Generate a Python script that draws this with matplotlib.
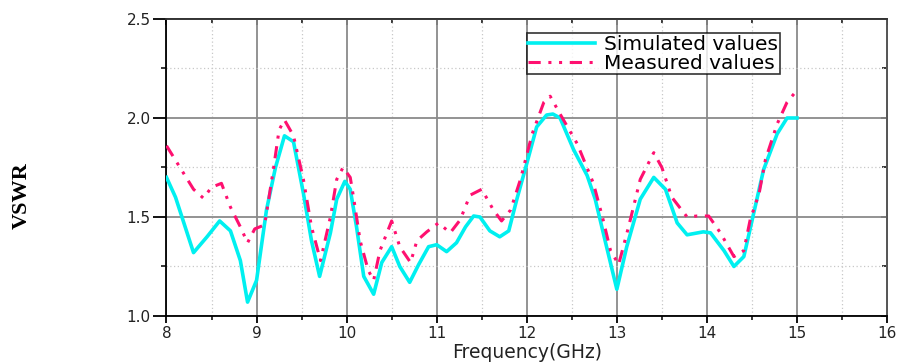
import matplotlib
matplotlib.use("Agg")
import matplotlib.pyplot as plt
from matplotlib.ticker import MultipleLocator

sim_f = [8.0, 8.1, 8.3, 8.45, 8.59, 8.71, 8.82, 8.9, 9.0, 9.11, 9.21, 9.31, 9.41, 9.52, 9.61, 9.7,
         9.82, 9.89, 9.98, 10.04, 10.11, 10.19, 10.3, 10.39, 10.5, 10.59, 10.7, 10.8, 10.91, 11.0,
         11.11, 11.22, 11.32, 11.41, 11.48, 11.59, 11.7, 11.8, 11.89, 12.0, 12.11, 12.22, 12.29,
         12.37, 12.52, 12.67, 12.76, 12.87, 13.0, 13.11, 13.26, 13.41, 13.54, 13.67, 13.78, 13.96,
         14.04, 14.19, 14.3, 14.41, 14.52, 14.63, 14.78, 14.89, 15.0]
sim_v = [1.70, 1.60, 1.32, 1.40, 1.48, 1.43, 1.28, 1.07, 1.18, 1.535, 1.75, 1.91, 1.88, 1.62, 1.38, 1.20,
         1.42, 1.59, 1.68, 1.64, 1.45, 1.20, 1.11, 1.27, 1.35, 1.25, 1.17, 1.26, 1.35, 1.36,
         1.325, 1.37, 1.45, 1.505, 1.50, 1.43, 1.40, 1.43, 1.59, 1.77, 1.955, 2.015, 2.02,
         2.00, 1.84, 1.71, 1.59, 1.38, 1.135, 1.35, 1.59, 1.70, 1.64, 1.47, 1.41, 1.425,
         1.42, 1.33, 1.25, 1.30, 1.52, 1.74, 1.92, 2.00, 2.00]

meas_f = [8.0, 8.15, 8.3, 8.41, 8.5, 8.61, 8.71, 8.82, 8.9, 8.98, 9.09, 9.19, 9.25, 9.31, 9.41, 9.52,
          9.61, 9.71, 9.82, 9.89, 9.96, 10.04, 10.08, 10.15, 10.24, 10.3, 10.37, 10.5, 10.59, 10.71,
          10.78, 10.89, 11.02, 11.15, 11.26, 11.37, 11.5, 11.63, 11.72, 11.82, 11.93, 12.06, 12.19,
          12.26, 12.37, 12.56, 12.74, 12.84, 12.93, 13.02, 13.13, 13.26, 13.41, 13.5, 13.61, 13.78,
          13.89, 14.02, 14.15, 14.3, 14.41, 14.48, 14.58, 14.65, 14.78, 14.89, 15.0]
meas_v = [1.86, 1.75, 1.64, 1.595, 1.65, 1.67, 1.55, 1.45, 1.37, 1.44, 1.46, 1.75, 1.94, 1.99, 1.91, 1.69,
          1.45, 1.28, 1.50, 1.69, 1.75, 1.70, 1.59, 1.38, 1.23, 1.18, 1.33, 1.48, 1.35, 1.27,
          1.38, 1.425, 1.47, 1.42, 1.485, 1.61, 1.64, 1.535, 1.48, 1.535, 1.69, 1.92, 2.08,
          2.11, 2.02, 1.87, 1.67, 1.50, 1.33, 1.26, 1.45, 1.69, 1.825, 1.75, 1.60, 1.50,
          1.505, 1.505, 1.42, 1.30, 1.33, 1.485, 1.62, 1.79, 1.97, 2.08, 2.14]

x_ticks = [8, 9, 10, 11, 12, 13, 14, 15, 16]
y_ticks = [1.0, 1.5, 2.0, 2.5]
y_tick_labels = ['1.0', '1.5', '2.0', '2.5']

fig = plt.figure(figsize=(8.99, 3.64), dpi=100)
ax = fig.add_axes([0.1852, 0.1319, 0.8015, 0.8159])

ax.plot(sim_f, sim_v, color='#00F0F0', lw=2.6, label='Simulated values', zorder=3)
ax.plot(meas_f, meas_v, color='#FF1070', lw=2.2, linestyle=(0, (4, 2.5, 1, 2.5, 1, 2.5)),
        label='Measured values', zorder=4)

ax.set_xlim(8, 16)
ax.set_ylim(1.0, 2.5)
ax.set_xticks(x_ticks)
ax.set_yticks(y_ticks)
ax.set_yticklabels(y_tick_labels)
ax.xaxis.set_minor_locator(MultipleLocator(0.5))
ax.yaxis.set_minor_locator(MultipleLocator(0.25))

ax.grid(which='major', color='#8a8a8a', lw=1.3, linestyle='-')
ax.grid(which='minor', color='#c8c8c8', lw=0.9, linestyle=(0, (1, 2)))
ax.set_axisbelow(True)

for s in ax.spines.values():
    s.set_linewidth(1.3)
ax.spines['left'].set_color('black')
ax.spines['bottom'].set_color('black')
ax.spines['top'].set_color('#333333')
ax.spines['right'].set_color('#555555')

ax.tick_params(axis='y', which='major', direction='out', length=9.5, width=1.3, left=True, right=False)
ax.tick_params(axis='y', which='minor', direction='out', length=3.8, width=1.1, left=True, right=False)
ax.tick_params(axis='x', which='major', direction='out', length=5, width=1.3, bottom=True, top=False)
ax.tick_params(axis='x', which='minor', direction='out', length=2.8, width=1.1, bottom=True, top=False)
ax.tick_params(axis='both', which='both', labelsize=11, labelfontfamily='DejaVu Sans',
               labelcolor='#222222', pad=2)

axr = ax.secondary_yaxis('right')
axr.set_yticks(y_ticks)
axr.yaxis.set_minor_locator(MultipleLocator(0.25))
axr.tick_params(which='major', direction='in', length=4, width=1.3, labelright=False)
axr.tick_params(which='minor', direction='in', length=3.5, width=1.1, labelright=False)
axr.spines['right'].set_color('#555555')
axr.spines['right'].set_linewidth(1.3)
axt = ax.secondary_xaxis('top')
axt.set_xticks(x_ticks)
axt.xaxis.set_minor_locator(MultipleLocator(0.5))
axt.tick_params(which='major', direction='in', length=4, width=1.3, labeltop=False)
axt.tick_params(which='minor', direction='in', length=3, width=1.1, labeltop=False)
axt.spines['top'].set_color('#333333')
axt.spines['top'].set_linewidth(1.3)

ax.set_xlabel('Frequency(GHz)', fontsize=13.5, family='DejaVu Sans', color='#222222', labelpad=2)
fig.text(0.024, 0.462, 'VSWR', rotation=90, fontsize=16, fontweight='bold',
         family='Liberation Serif', ha='center', va='center')

leg = ax.legend(loc='upper left', bbox_to_anchor=(0.5, 0.953),
                prop={'family': 'DejaVu Sans', 'size': 14.5},
                frameon=True, fancybox=False, edgecolor='black', borderpad=0.08,
                labelspacing=0.0, handlelength=3.3, handletextpad=0.45, borderaxespad=0)
leg.get_frame().set_linewidth(1.2)

fig.savefig('out.png', dpi=100)
